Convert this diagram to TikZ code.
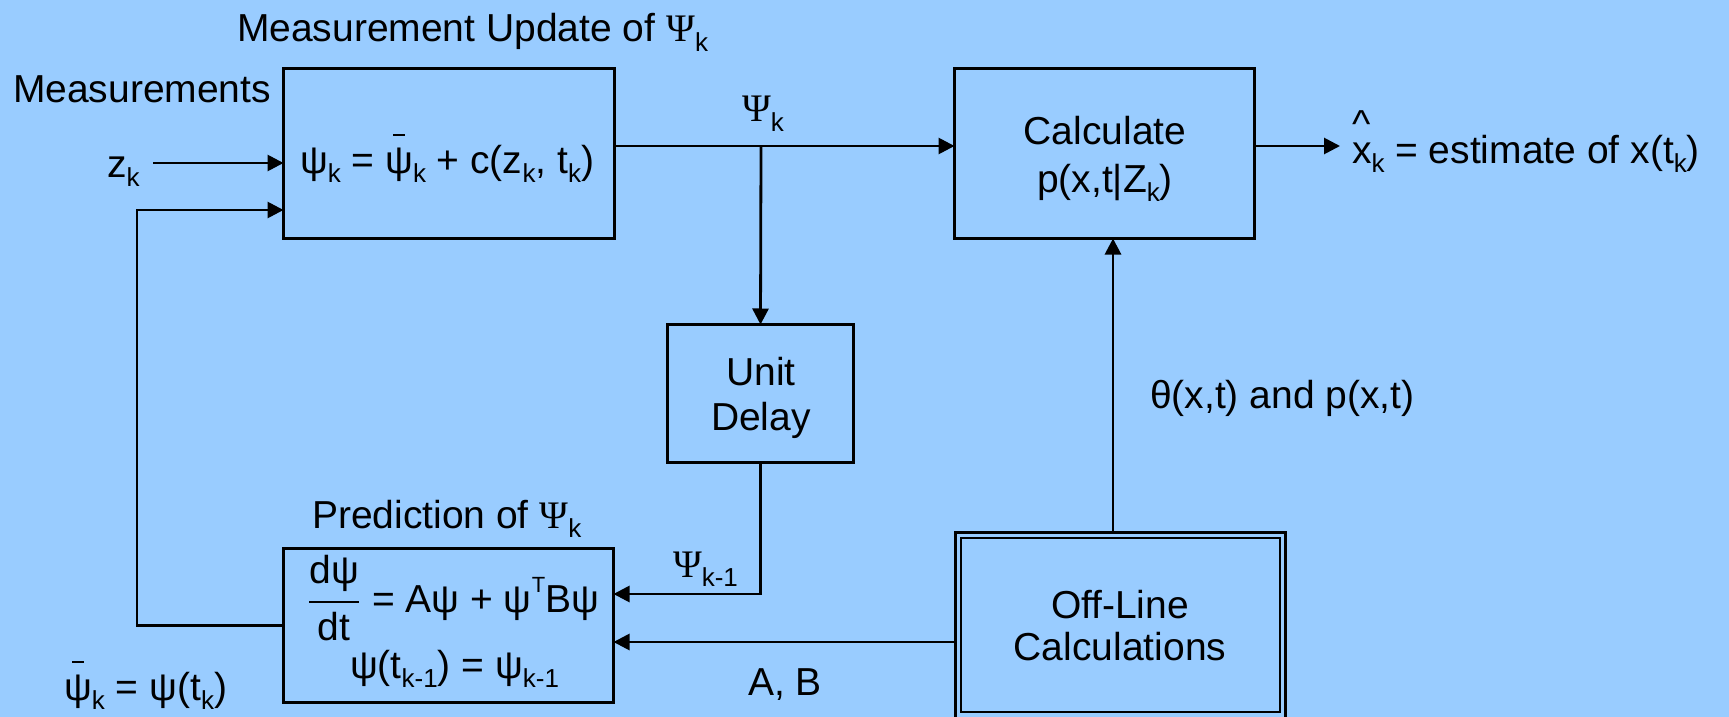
\documentclass[tikz,border=0pt]{standalone}
\usepackage{fontspec}
\usepackage{amsmath}
\setmainfont{Liberation Sans}
\newfontfamily\grk{Liberation Serif}
\usetikzlibrary{arrows.meta}
\definecolor{bg}{HTML}{99CCFF}
\newcommand\BigPsi{{\grk Ψ}}
\newcommand\sbs[1]{\raisebox{-0.25em}{\fontsize{13pt}{13pt}\selectfont #1}}
\newcommand\sps[1]{\raisebox{0.5em}{\fontsize{11pt}{11pt}\selectfont #1}}
\newcommand\psibar{\ooalign{ψ\cr\hidewidth\rule[0.95em]{0.3em}{1.2pt}\hidewidth\cr}}
\newcommand\xhat{\ooalign{x\cr\hidewidth\raisebox{0.65em}{\textasciicircum}\hidewidth\cr}}
\tikzset{
  every node/.style={font=\fontsize{19.5pt}{21pt}\selectfont, inner sep=0pt, outer sep=0pt},
  blk/.style={draw, line width=1.5pt, rectangle},
  arr/.style={line width=1.4pt, -{Triangle[length=8pt,width=8pt]}},
  txt/.style={anchor=base},
}
\begin{document}
\begin{tikzpicture}[x=0.5pt,y=-0.5pt]
\fill[bg] (0,0) rectangle (1729,717);
\useasboundingbox (0,0) rectangle (1729,717);

% boxes (sizes in pt = half the pixel size)
\node[blk, minimum width=165.5pt, minimum height=85pt] (meas) at (449,153.5) {};
\node[blk, minimum width=150pt, minimum height=85pt] (calc) at (1104.5,153.5) {};
\node[blk, minimum width=93pt, minimum height=69pt] (ud) at (760.5,393.5) {};
\node[blk, minimum width=165pt, minimum height=77pt] (pred) at (448.5,625.5) {};
\node[blk, minimum width=165pt, minimum height=93pt] (off) at (1120.5,625.5) {};
\node[draw, line width=1pt, minimum width=159.5pt, minimum height=87pt] (offin) at (1120.5,625) {};

% texts
\node[txt, anchor=base west] (ttl) at (237,42) {Measurement Update of \BigPsi\sbs{k}};
\node[txt, anchor=base west] (msl) at (13,103) {Measurements};
\node[txt, anchor=base west] (zk) at (107,177) {z\sbs{k}};
\node[txt] (mf) at (447,173) {ψ\sbs{k} = \psibar\sbs{k} + c(z\sbs{k}, t\sbs{k})};
\node[txt, anchor=base west] (psk) at (742,122) {\BigPsi\sbs{k}};
\node[txt] (unit) at (761,385) {Unit};
\node[txt] (delay) at (761,430) {Delay};
\node[txt] (calc1) at (1105,145) {Calculate};
\node[txt] (calc2) at (1105,192) {p(x,t|Z\sbs{k})};
\node[txt, anchor=base west] (est) at (1352,163) {\xhat\sbs{k} = estimate of x(t\sbs{k})};
\node[txt, anchor=base west] (theta) at (1150,408) {θ(x,t) and p(x,t)};
\node[txt] (off1) at (1120,618) {Off-Line};
\node[txt] (off2) at (1120,660) {Calculations};
\node[txt, anchor=base west] (pttl) at (312,528) {Prediction of \BigPsi\sbs{k}};
\node[txt, anchor=base west] (pf1) at (307,612) {$\genfrac{}{}{1.1pt}{0}{\mbox{dψ}}{\mbox{dt}}$ = Aψ + ψ\sps{T}Bψ};
\node[txt, anchor=base west] (pf2) at (350,678) {ψ(t\sbs{k-1}) = ψ\sbs{k-1}};
\node[txt, anchor=base east] (pbar) at (227,700) {\psibar\sbs{k} = ψ(t\sbs{k})};
\node[txt, anchor=base west] (pskm) at (673,577) {\BigPsi\sbs{k-1}};
\node[txt, anchor=base west] (ab) at (748,695) {A, B};

% connectors
\coordinate (zkout) at (153,163);
\coordinate (br) at (761,146);
\coordinate (xout) at (1340,146);
\coordinate (fbx) at (137,210);
\draw[arr] (zkout) -- (meas.west |- zkout);
\draw[arr] (pred.west) -| (fbx) -- (meas.west |- fbx);
\draw[arr] (meas.east |- br) -- (calc.west |- br);
\draw[arr] (br) -- (ud.north);
\draw[arr] (ud.south) |- (pred.east |- 0,594);
\draw[arr] (off.west |- 0,642) -- (pred.east |- 0,642);
\draw[arr] (off.north -| 1113,0) -- (calc.south -| 1113,0);
\draw[arr] (calc.east |- xout) -- (xout);
\end{tikzpicture}
\end{document}
